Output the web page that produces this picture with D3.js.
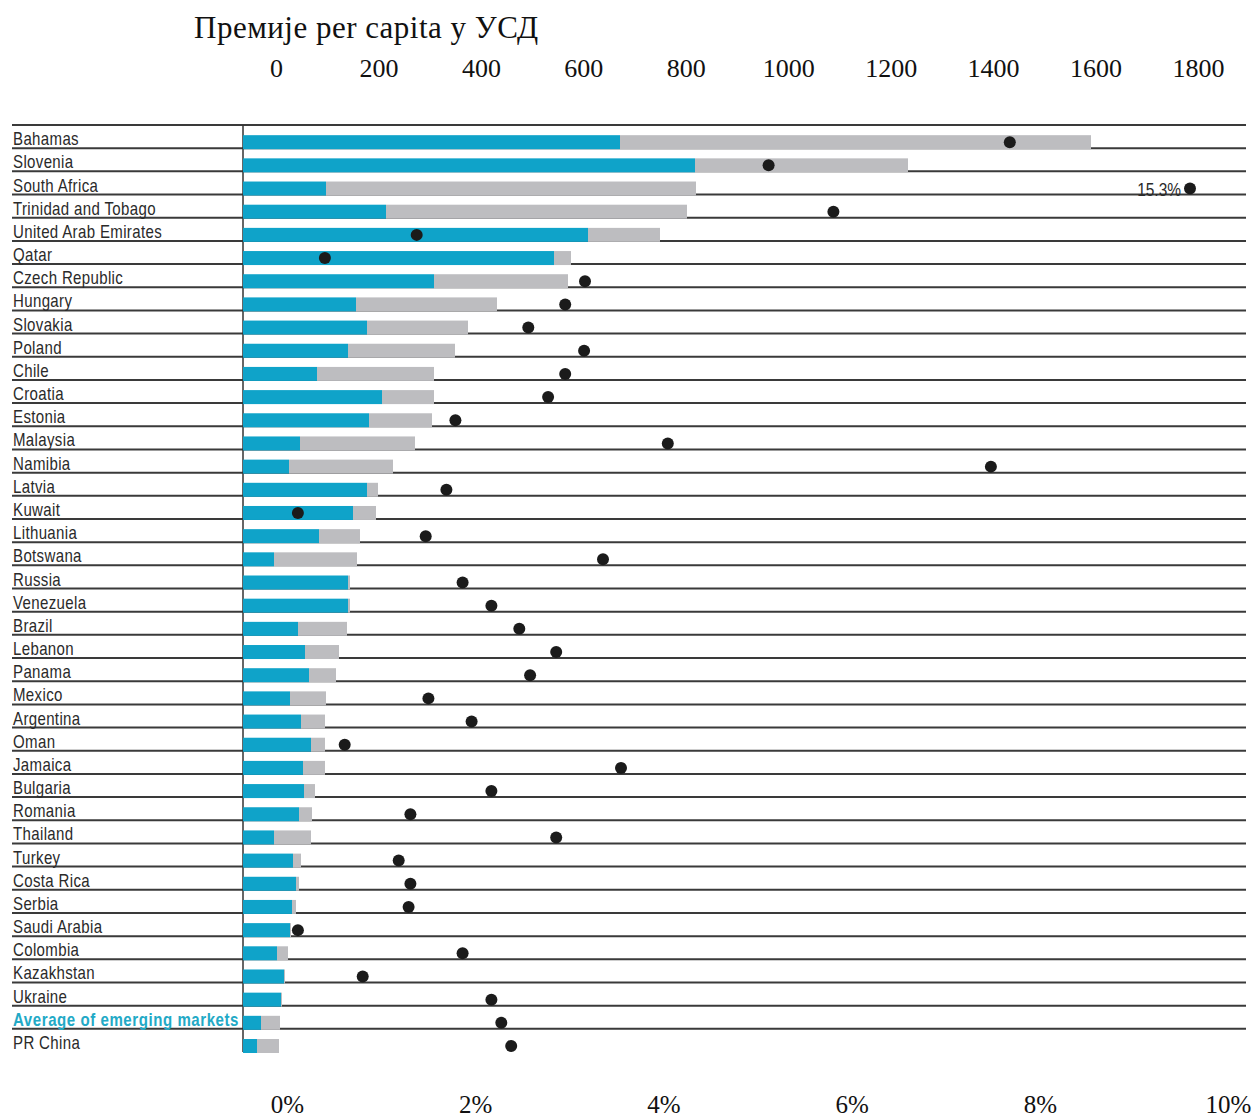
<!DOCTYPE html>
<html>
<head>
<meta charset="utf-8">
<script src="https://cdn.jsdelivr.net/npm/d3@7"></script>
<style>
  html, body { margin: 0; padding: 0; background: #fff; }
  svg { display: block; }
</style>
</head>
<body>
<svg id="chart" width="1258" height="1118"></svg>
<script>
// Insurance premiums in emerging markets: per capita (USD, split non-life / life)
// and premiums as a share of GDP (dots).
const countries = [
  "Bahamas", "Slovenia", "South Africa", "Trinidad and Tobago", "United Arab Emirates",
  "Qatar", "Czech Republic", "Hungary", "Slovakia", "Poland", "Chile", "Croatia",
  "Estonia", "Malaysia", "Namibia", "Latvia", "Kuwait", "Lithuania", "Botswana",
  "Russia", "Venezuela", "Brazil", "Lebanon", "Panama", "Mexico", "Argentina", "Oman",
  "Jamaica", "Bulgaria", "Romania", "Thailand", "Turkey", "Costa Rica", "Serbia",
  "Saudi Arabia", "Colombia", "Kazakhstan", "Ukraine", "Average of emerging markets", "PR China"
];
const nonLifeUSD = [
  754, 904, 166, 286, 690, 622, 382, 226, 248, 210, 148, 278,
  252, 114, 92, 248, 220, 152, 62,
  210, 210, 110, 124, 132, 94, 116, 136,
  120, 122, 112, 62, 100, 106, 98,
  94, 68, 82, 76, 36, 28
];
const lifeUSD = [
  942, 426, 740, 602, 144, 34, 268, 282, 202, 214, 234, 104,
  126, 230, 208, 22, 46, 82, 166,
  4, 4, 98, 68, 54, 72, 48, 28,
  44, 22, 26, 74, 16, 6, 8,
  2, 22, 2, 2, 38, 44
];
const premiumPctGDP = [
  8.52, 5.84, 15.3, 6.56, 1.93, 0.91, 3.80, 3.58, 3.17, 3.79, 3.58, 3.39,
  2.36, 4.72, 8.31, 2.26, 0.61, 2.03, 4.00,
  2.44, 2.76, 3.07, 3.48, 3.19, 2.06, 2.54, 1.13,
  4.20, 2.76, 1.86, 3.48, 1.73, 1.86, 1.84,
  0.61, 2.44, 1.33, 2.76, 2.87, 2.98
];
const usdTicks = [0, 200, 400, 600, 800, 1000, 1200, 1400, 1600, 1800];
const pctTicks = [0, 2, 4, 6, 8, 10];
const highlighted = "Average of emerging markets";
const titleText = "Премије per capita у УСД";

const rows = countries.map((c, i) => ({
  country: c, nonLife: nonLifeUSD[i], life: lifeUSD[i], pct: premiumPctGDP[i]
}));

// layout
const ruleLeft = 12, ruleRight = 1246;
const plotLeft = 243, plotTop = 125, plotBottom = 1052;
const scaleRight = 1143;
const overflowX = ruleRight - 56;
const barH = 14;

const SERIF = "'Liberation Serif', 'Times New Roman', serif";
const SANS = "'Liberation Sans', Arial, sans-serif";
const NARROW = 0.86; // horizontal squeeze for the condensed row labels

const COLORS = {
  nonLife: "#0fa3c9",
  life: "#bdbdc0",
  dot: "#1b1b1b",
  rule: "#3a3a3a",
  label: "#2a2a2a",
  highlight: "#22a9c6"
};

const svg = d3.select("#chart");

const y = d3.scaleBand().domain(countries).range([plotTop, plotBottom]);
const xUsd = d3.scaleLinear().domain([0, 1800]).range([plotLeft, scaleRight]);
const xPct = d3.scaleLinear().domain([0, 10]).range([plotLeft, scaleRight]);

// the printed tick rows sit slightly apart from the plot scales
const usdAxisScale = d3.scaleLinear().domain([0, 1800]).range([276, 1198]);
const pctAxisScale = d3.scaleLinear().domain([0, 10]).range([287, 1228]);

const rowBottom = d => y(d) + y.bandwidth();

// title
svg.append("text")
  .attr("x", 194).attr("y", 38)
  .attr("font-family", SERIF)
  .attr("font-size", 31)
  .attr("letter-spacing", 0.5)
  .attr("fill", "#111")
  .text(titleText);

// top axis (USD per capita)
const topAxis = svg.append("g")
  .attr("transform", "translate(0,77)")
  .call(d3.axisTop(usdAxisScale).tickValues(usdTicks).tickSize(0).tickPadding(0).tickFormat(d3.format("d")));
topAxis.select(".domain").remove();
topAxis.selectAll("text")
  .attr("font-family", SERIF)
  .attr("font-size", 26)
  .attr("fill", "#111")
  .attr("dy", 0);

// bottom axis (premiums in % of GDP)
const bottomAxis = svg.append("g")
  .attr("transform", "translate(0,1113)")
  .call(d3.axisBottom(pctAxisScale).tickValues(pctTicks).tickSize(0).tickPadding(0).tickFormat(d => d + "%"));
bottomAxis.select(".domain").remove();
bottomAxis.selectAll("text")
  .attr("font-family", SERIF)
  .attr("font-size", 25)
  .attr("fill", "#111")
  .attr("dy", 0);

// horizontal rules: top rule and one under every row except the last
const ruleYs = [plotTop].concat(countries.slice(0, -1).map(rowBottom));
svg.append("g").selectAll("line")
  .data(ruleYs)
  .join("line")
  .attr("x1", ruleLeft).attr("x2", ruleRight)
  .attr("y1", d => d).attr("y2", d => d)
  .attr("stroke", COLORS.rule)
  .attr("stroke-width", 2);

// vertical base line
svg.append("line")
  .attr("x1", plotLeft).attr("x2", plotLeft)
  .attr("y1", plotTop).attr("y2", plotBottom)
  .attr("stroke", "#333")
  .attr("stroke-width", 1.5);

// stacked bars: non-life then life
const bars = svg.append("g");
bars.selectAll("rect.nonlife")
  .data(rows)
  .join("rect")
  .attr("class", "nonlife")
  .attr("x", xUsd(0))
  .attr("y", d => rowBottom(d.country) - barH + 1)
  .attr("width", d => xUsd(d.nonLife) - xUsd(0))
  .attr("height", barH)
  .attr("fill", COLORS.nonLife);
bars.selectAll("rect.life")
  .data(rows)
  .join("rect")
  .attr("class", "life")
  .attr("x", d => xUsd(d.nonLife))
  .attr("y", d => rowBottom(d.country) - barH + 1)
  .attr("width", d => xUsd(d.nonLife + d.life) - xUsd(d.nonLife))
  .attr("height", barH)
  .attr("fill", COLORS.life);

// country labels (condensed)
svg.append("g").selectAll("text")
  .data(rows)
  .join("text")
  .attr("transform", d => `translate(13,${rowBottom(d.country) - 3}) scale(${NARROW},1)`)
  .attr("font-family", SANS)
  .attr("font-size", 17.5)
  .attr("font-weight", d => d.country === highlighted ? "bold" : "normal")
  .attr("letter-spacing", d => d.country === highlighted ? 0.65 : 0.4)
  .attr("fill", d => d.country === highlighted ? COLORS.highlight : COLORS.label)
  .text(d => d.country);

// penetration dots; values beyond the scale are pinned near the right edge
const pctX = d => d.pct > xPct.domain()[1] ? overflowX : xPct(d.pct);
svg.append("g").selectAll("circle")
  .data(rows)
  .join("circle")
  .attr("cx", pctX)
  .attr("cy", d => rowBottom(d.country) - 6)
  .attr("r", 6)
  .attr("fill", COLORS.dot);

svg.append("g").selectAll("text")
  .data(rows.filter(d => d.pct > xPct.domain()[1]))
  .join("text")
  .attr("transform", d => `translate(${pctX(d) - 9},${rowBottom(d.country) + 1}) scale(${NARROW},1)`)
  .attr("text-anchor", "end")
  .attr("font-family", SANS)
  .attr("font-size", 18)
  .attr("fill", COLORS.label)
  .text(d => d3.format(".1f")(d.pct) + "%");
</script>
</body>
</html>
